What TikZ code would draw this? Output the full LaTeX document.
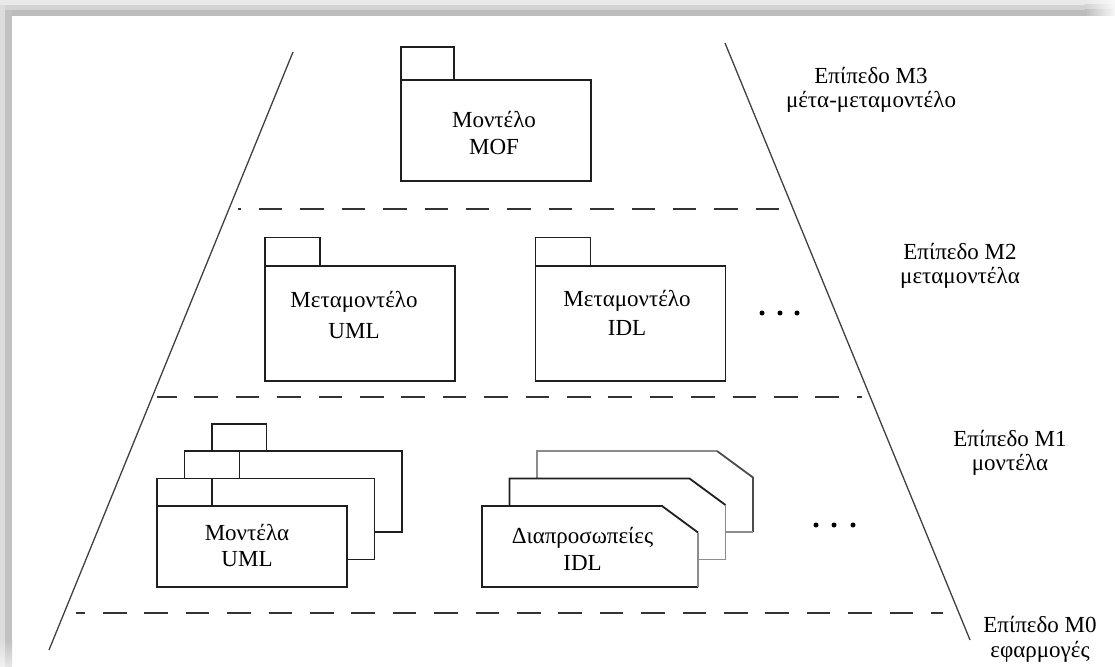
\documentclass[tikz,border=0pt]{standalone}
\usepackage{fontspec}
\setmainfont{Liberation Serif}
\definecolor{shA}{HTML}{E9E9E9}
\definecolor{shB}{HTML}{D3D3D3}
\definecolor{shC}{HTML}{BDBDBD}
\definecolor{shL}{HTML}{DCDCDC}
\definecolor{shM}{HTML}{C1C1C1}
\begin{document}
\begin{tikzpicture}[x=1pt,y=-1pt,
  pkgbody/.style={draw=black!88, line width=1.8pt, fill=white, rectangle,
    inner sep=0pt, outer sep=0pt, minimum width=190pt},
  pkgtab/.style={draw=black!88, line width=1.8pt, fill=white},
  cardline/.style={draw=black!88, line width=1.8pt, line join=miter},
  cardgray/.style={draw=black!45, line width=1.8pt},
  lbl/.style={font=\fontsize{23}{27}\selectfont, align=center, inner sep=0pt},
  tier/.style={font=\fontsize{23}{24}\selectfont, align=center, inner sep=0pt},
  slope/.style={draw=black!75, line width=1.3pt},
  levelline/.style={draw=black!80, line width=2pt, dash pattern=on 23.5pt off 17.9pt},
  dot/.style={circle, fill=black, inner sep=0pt, minimum size=5pt},
]
\useasboundingbox (0,0) rectangle (1115,666);

% soft shadow along the top and left edges of the frame
\fill[shA] (0,0) rectangle (1085,5);
\fill[shB] (0,5) rectangle (1085,10);
\fill[shC] (12,10) rectangle (1085,16);
\shade[left color=shA, right color=shA!30] (1085,0) rectangle (1115,5);
\shade[left color=shB, right color=shA!30] (1085,5) rectangle (1115,10);
\shade[left color=shC, right color=shA!30] (1085,10) rectangle (1115,16);
\fill[shL] (0,5) rectangle (5,640);
\fill[shM] (5,10) rectangle (12,640);
\shade[top color=shL, bottom color=shL!40] (0,640) rectangle (5,666);
\shade[top color=shM, bottom color=shM!40] (5,640) rectangle (12,666);

% sides of the pyramid
\coordinate (apexL) at (293,52);
\coordinate (baseL) at (49,650);
\coordinate (apexR) at (725,43);
\coordinate (baseR) at (970,640);
\draw[slope] (apexL) -- (baseL);
\draw[slope] (apexR) -- (baseR);

% boundaries between the levels
\coordinate (s3a) at (238,209);
\coordinate (s3b) at (780,209);
\coordinate (s2a) at (157,397);
\coordinate (s2b) at (862,397);
\coordinate (s1a) at (76,613);
\coordinate (s1b) at (943,613);
\draw[levelline, dash phase=20.5pt] (s3a) -- (s3b);
\draw[levelline, dash phase=4pt] (s2a) -- (s2b);
\draw[levelline, dash phase=14.4pt] (s1a) -- (s1b);

% level M3
\node[pkgbody, minimum height=101pt] (mofB) at (496,130.5) {};
\draw[pkgtab] (mofB.north west) rectangle ++(53,-33);
\node[lbl] (mofT) at (494,133) {Μοντέλο\\MOF};

% level M2
\node[pkgbody, minimum height=115pt] (umlMB) at (360,323.5) {};
\draw[pkgtab] (umlMB.north west) rectangle ++(55,-28.5);
\node[lbl, font=\fontsize{23}{30}\selectfont] (umlMT) at (354,315) {Μεταμοντέλο\\UML};

\node[pkgbody, minimum height=115pt] (idlMB) at (630.5,323.5) {};
\draw[pkgtab] (idlMB.north west) rectangle ++(55,-28.5);
\node[lbl, font=\fontsize{23}{29}\selectfont] (idlMT) at (627,313) {Μεταμοντέλο\\IDL};

\node[dot] (m2d1) at (762,313) {};
\node[dot] (m2d2) at (780,313) {};
\node[dot] (m2d3) at (797,313) {};

% level M1: stacked UML packages
\node[pkgbody, minimum height=81pt] (umlC) at (307,491.5) {};
\draw[pkgtab] (umlC.north west) rectangle ++(54.5,-27);
\node[pkgbody, minimum height=81pt] (umlB) at (279.5,519) {};
\draw[pkgtab] (umlB.north west) rectangle ++(55,-27.5);
\node[pkgbody, minimum height=81pt] (umlA) at (252,546.5) {};
\draw[pkgtab] (umlA.north west) rectangle ++(55,-27.5);
\node[lbl, font=\fontsize{23}{26}\selectfont] (umlAT) at (247,545.5) {Μοντέλα\\UML};

% level M1: stacked IDL interface cards with a clipped corner
\fill[white] (537,451) -- ++(180,0) -- ++(36,26.5) -- ++(0,54.5) -- ++(-216,0) -- cycle;
\draw[cardgray] (537,532) -- ++(0,-81) -- ++(180,0);
\draw[cardline, draw=black!70] (717,451) -- ++(36,26.5) -- ++(0,54.5);
\draw[cardgray] (753,532) -- ++(-216,0);

\fill[white] (509.5,478.5) -- ++(180,0) -- ++(36,26.5) -- ++(0,54.5) -- ++(-216,0) -- cycle;
\draw[cardline] (509.5,559.5) -- ++(0,-81) -- ++(180,0) -- ++(36,26.5);
\draw[cardgray] (725.5,505) -- ++(0,54.5) -- ++(-216,0);

\fill[white] (482,506) -- ++(180,0) -- ++(36,26.5) -- ++(0,54.5) -- ++(-216,0) -- cycle;
\draw[cardline] (698,587) -- ++(-216,0) -- ++(0,-81) -- ++(180,0) -- ++(36,26.5);
\draw[cardgray] (698,532.5) -- ++(0,54.5);
\node[lbl] (idlT) at (582.5,549) {Διαπροσωπείες\\IDL};

\node[dot] (m1d1) at (816,525) {};
\node[dot] (m1d2) at (834,525) {};
\node[dot] (m1d3) at (853,525) {};

% level captions
\node[tier] (t3) at (871,90) {Επίπεδο M3\\μέτα-μεταμοντέλο};
\node[tier] (t2) at (960,266) {Επίπεδο M2\\μεταμοντέλα};
\node[tier] (t1) at (1010,453) {Επίπεδο M1\\μοντέλα};
\node[tier, font=\fontsize{23}{25}\selectfont] (t0) at (1040,639) {Επίπεδο M0\\εφαρμογές};
\end{tikzpicture}
\end{document}
